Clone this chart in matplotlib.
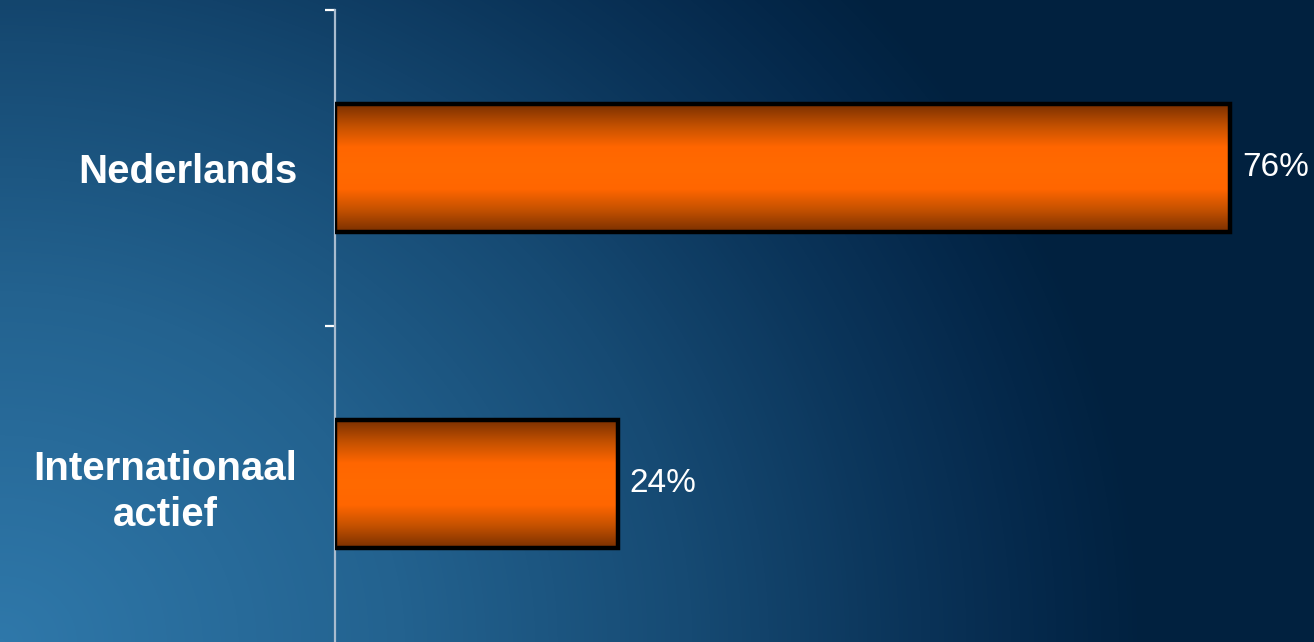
import numpy as np
import matplotlib
matplotlib.use("Agg")
import matplotlib.pyplot as plt
from matplotlib.colors import LinearSegmentedColormap

categories = ["Nederlands", "Internationaal\nactief"]
values = [76, 24]
value_labels = ["76%", "24%"]

W, H = 1314, 642
fig = plt.figure(figsize=(W / 100, H / 100), dpi=100)

# background gradient (light bottom-left -> dark navy)
bg = fig.add_axes([0, 0, 1, 1])
yy, xx = np.mgrid[0:H, 0:W]
t = np.sqrt((xx / 1150.0) ** 2 + ((H - yy) / 1000.0) ** 2)
t = np.clip(t, 0, 1.05)
bg_cmap = LinearSegmentedColormap.from_list(
    "bg", [(0.0, "#2f78aa"), (0.35, "#23628f"), (0.6, "#164a73"),
           (0.8, "#0a3358"), (0.92, "#042749"), (1.0, "#01213f")])
bg.imshow(t, cmap=bg_cmap, vmin=0, vmax=1, extent=[0, 1, 0, 1],
          aspect="auto", origin="upper")
bg.set_axis_off()

ax = fig.add_axes([335 / W, 0, 1 - 335 / W, (H - 10) / H])
ax.set_facecolor("none")

ypos = np.arange(len(categories))
bar_h = 0.405
cmap = LinearSegmentedColormap.from_list(
    "bar", ["#7a3000", "#c25000", "#ff6600", "#ff6a00", "#ff6600", "#c25000", "#7a3000"])
grad = np.linspace(0, 1, 256)[:, None]
bars = ax.barh(ypos, values, height=bar_h, facecolor="none",
               edgecolor="black", linewidth=3.2, zorder=3)
for b in bars:
    x0, y0 = b.get_x(), b.get_y()
    w, h = b.get_width(), b.get_height()
    im = ax.imshow(grad, cmap=cmap, extent=[x0, x0 + w, y0 + h, y0],
                   aspect="auto", origin="upper", zorder=2)
    im.set_clip_path(b)
ax.set_xlim(0, 83.1)
ax.set_ylim(1.5, -0.5)

for y, v, lab in zip(ypos, values, value_labels):
    ax.text(v + 1.0, y, lab, va="center", ha="left", color="white",
            fontsize=24, family="Liberation Sans")

for s in ["top", "right", "bottom"]:
    ax.spines[s].set_visible(False)
ax.spines["left"].set_color("#a9bccf")
ax.spines["left"].set_linewidth(1.6)
ax.set_xticks([])
ax.set_yticks(ypos)
ax.set_yticklabels(categories, fontsize=29, fontweight="bold",
                   family="Liberation Sans", color="white",
                   multialignment="center", linespacing=1.25)
ax.tick_params(axis="y", which="major", length=0, pad=27)
ax.set_yticks([-0.5, 0.5], minor=True)
ax.tick_params(axis="y", which="minor", length=7, width=1.6, color="white")

fig.savefig("out.png", dpi=100)
